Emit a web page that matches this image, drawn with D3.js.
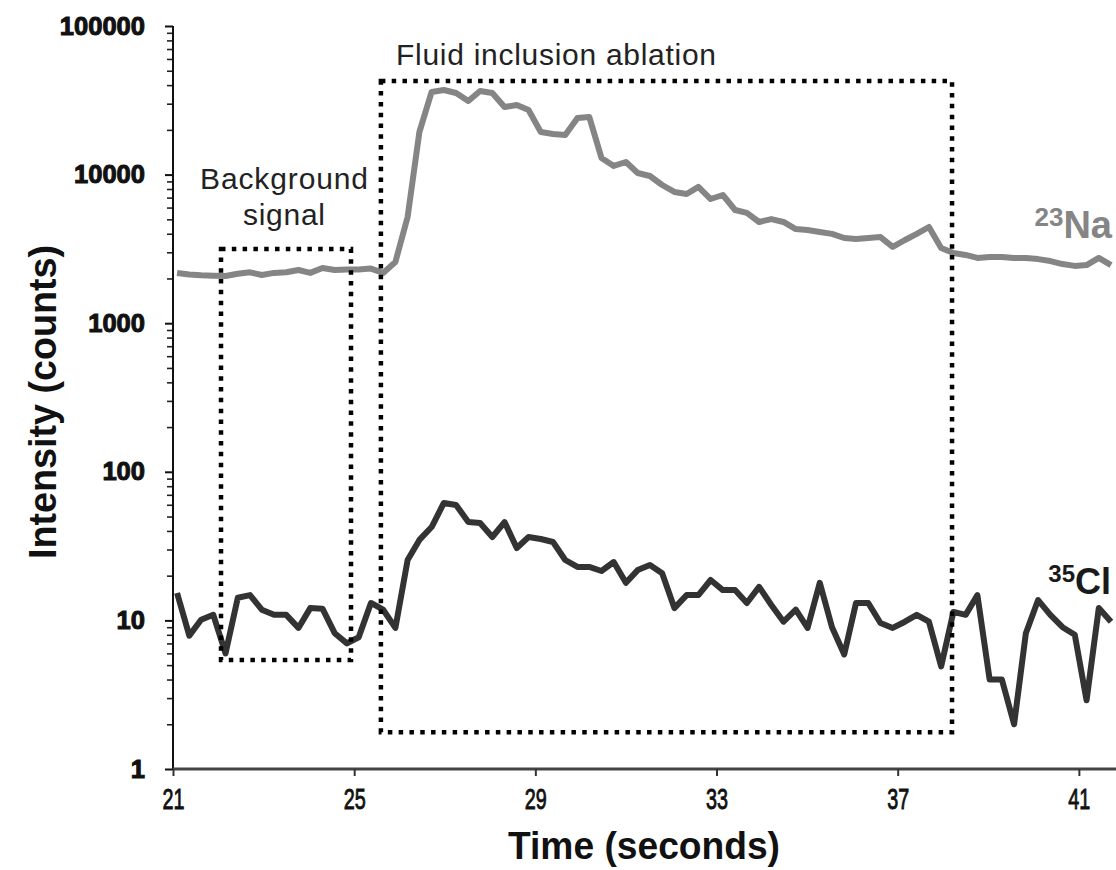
<!DOCTYPE html>
<html>
<head>
<meta charset="utf-8">
<script src="https://cdn.jsdelivr.net/npm/d3@7"></script>
<style>
  html, body { margin: 0; padding: 0; background: #fff; }
  svg { display: block; }
</style>
</head>
<body>
<svg id="chart" width="1116" height="870"></svg>
<script>
// ---- data ----
const time = [21.09,21.36,21.62,21.89,22.16,22.43,22.70,22.96,23.23,23.50,
  23.77,24.03,24.30,24.57,24.84,25.10,25.37,25.64,25.91,26.18,
  26.44,26.71,26.98,27.25,27.52,27.78,28.05,28.32,28.59,28.85,
  29.12,29.39,29.66,29.93,30.19,30.46,30.73,31.00,31.26,31.53,
  31.80,32.07,32.34,32.60,32.87,33.14,33.41,33.67,33.94,34.21,
  34.48,34.75,35.01,35.28,35.55,35.82,36.08,36.35,36.62,36.89,
  37.16,37.42,37.69,37.96,38.23,38.50,38.76,39.03,39.30,39.57,
  39.83,40.10,40.37,40.64,40.91,41.17,41.44,41.71];
const na23 = [2180,2130,2100,2090,2080,2150,2200,2110,2180,2200,
  2280,2180,2350,2280,2300,2300,2330,2180,2580,5190,
  19350,35970,37100,35400,31280,36530,35400,28500,29400,27200,
  19350,18760,18470,24050,24420,12940,11430,12160,10250,9790,
  8510,7640,7400,8260,6850,7290,5780,5520,4800,5020,
  4800,4300,4240,4110,3990,3745,3690,3745,3800,3260,
  3630,3990,4440,3210,2970,2880,2750,2790,2790,2750,
  2750,2700,2620,2500,2430,2460,2750,2460];
const cl35 = [15.3,7.9,10.1,10.9,6.0,14.2,14.8,11.8,10.9,10.9,
  8.9,12.1,12.0,8.2,7.0,7.7,13.1,11.8,8.9,25.5,
  34.8,42.5,61.7,59.8,45.9,45.2,36.4,45.9,30.7,36.4,
  35.3,33.7,25.5,22.9,22.9,21.5,24.7,17.9,21.8,23.6,
  20.8,12.1,14.8,14.8,18.7,16.0,16.0,13.1,16.8,12.7,
  9.8,11.8,8.9,17.9,9.0,5.9,13.1,13.1,9.6,8.9,
  9.8,10.9,9.8,4.9,11.4,10.9,14.8,4.0,4.0,2.0,
  8.2,13.7,10.9,9.0,8.0,2.9,12.1,9.8];
const xTicks = [21,25,29,33,37,41];
const yDecades = [1,10,100,1000,10000,100000];
// annotated regions in data units
const regionNames = ["Background signal", "Fluid inclusion ablation"];
const regionT0 = [22.06, 25.59];
const regionT1 = [24.93, 38.20];
const regionLow = [5.41, 1.77];
const regionHigh = [3160, 42650];

// ---- drawing ----
const svg = d3.select("#chart");
const x = d3.scaleLinear().domain([21, 41.82]).range([173, 1116]);
const y = d3.scaleLog().domain([1, 100000]).range([769, 26]);

const sans = "'Liberation Sans',Arial,sans-serif";

const minor = [];
yDecades.slice(0, -1).forEach(d => { for (let k = 2; k <= 9; k++) minor.push(d * k); });

const gYminor = svg.append("g").attr("transform", "translate(173,0)")
  .call(d3.axisLeft(y).tickValues(minor).tickSize(6).tickFormat(""));
gYminor.select(".domain").remove();
gYminor.selectAll(".tick line").attr("stroke", "#222").attr("stroke-width", 1.6);

const gY = svg.append("g").attr("transform", "translate(173,0)")
  .call(d3.axisLeft(y).tickValues(yDecades).tickSize(8).tickPadding(20).tickFormat(d3.format("d")));
gY.select(".domain").attr("stroke", "#111").attr("stroke-width", 2).attr("d", "M0,26V769");
gY.selectAll(".tick line").attr("stroke", "#111").attr("stroke-width", 2);
gY.selectAll(".tick text")
  .attr("font-family", sans).attr("font-weight", "bold").attr("font-size", 25)
  .attr("fill", "#111").attr("stroke", "#111").attr("stroke-width", 1)
  .attr("textLength", d => String(d).length * 14.2).attr("lengthAdjust", "spacingAndGlyphs");

const gX = svg.append("g").attr("transform", "translate(0,769)")
  .call(d3.axisBottom(x).tickValues(xTicks).tickSize(7).tickPadding(12).tickFormat(d3.format("d")));
gX.select(".domain").attr("stroke", "#444").attr("stroke-width", 3).attr("d", "M173,0H1116");
gX.selectAll(".tick line").attr("stroke", "#333").attr("stroke-width", 2);
gX.selectAll(".tick text")
  .attr("font-family", sans).attr("font-size", 30).attr("fill", "#111")
  .attr("stroke", "#111").attr("stroke-width", 0.9)
  .attr("transform", "scale(0.66,1)");

// axis titles
svg.append("text").attr("x", 644).attr("y", 859).attr("text-anchor", "middle")
  .attr("font-family", sans).attr("font-weight", "bold").attr("font-size", 38)
  .attr("fill", "#111").attr("textLength", 272).attr("lengthAdjust", "spacingAndGlyphs")
  .text("Time (seconds)");
svg.append("text").attr("transform", "translate(56,402) rotate(-90)").attr("text-anchor", "middle")
  .attr("font-family", sans).attr("font-weight", "bold").attr("font-size", 38)
  .attr("fill", "#111").attr("textLength", 314).attr("lengthAdjust", "spacingAndGlyphs")
  .text("Intensity (counts)");

// series lines
const line = vals => d3.line().x((d, i) => x(time[i])).y(d => y(d))(vals);
svg.append("path").attr("d", line(na23)).attr("fill", "none")
  .attr("stroke", "#858585").attr("stroke-width", 6).attr("stroke-linejoin", "round");
svg.append("path").attr("d", line(cl35)).attr("fill", "none")
  .attr("stroke", "#333").attr("stroke-width", 6).attr("stroke-linejoin", "round");

// dotted region boxes
regionNames.forEach((name, i) => {
  svg.append("rect")
    .attr("x", x(regionT0[i])).attr("y", y(regionHigh[i]))
    .attr("width", x(regionT1[i]) - x(regionT0[i]))
    .attr("height", y(regionLow[i]) - y(regionHigh[i]))
    .attr("fill", "none").attr("stroke", "#000").attr("stroke-width", 4.5)
    .attr("stroke-dasharray", "4.5,6.3");
});

// region labels
svg.append("text").attr("x", 396).attr("y", 65)
  .attr("font-family", sans).attr("font-size", 30).attr("fill", "#222")
  .attr("textLength", 320).attr("lengthAdjust", "spacing")
  .text(regionNames[1]);
const bg = svg.append("text").attr("text-anchor", "middle")
  .attr("font-family", sans).attr("font-size", 30).attr("fill", "#222");
bg.append("tspan").attr("x", 284).attr("y", 189).attr("textLength", 168).attr("lengthAdjust", "spacing").text("Background");
bg.append("tspan").attr("x", 284).attr("y", 225).attr("textLength", 82).attr("lengthAdjust", "spacing").text("signal");

// series labels
const naLab = svg.append("text").attr("x", 1112).attr("y", 238).attr("text-anchor", "end")
  .attr("font-family", sans).attr("font-weight", "bold").attr("fill", "#858585");
naLab.append("tspan").attr("font-size", 26).attr("dy", -12).text("23");
naLab.append("tspan").attr("font-size", 38).attr("dy", 12).text("Na");

const clLab = svg.append("text").attr("x", 1111).attr("y", 594).attr("text-anchor", "end")
  .attr("font-family", sans).attr("font-weight", "bold").attr("fill", "#1a1a1a");
clLab.append("tspan").attr("font-size", 24).attr("dy", -12).text("35");
clLab.append("tspan").attr("font-size", 36).attr("dy", 12).text("Cl");
</script>
</body>
</html>
